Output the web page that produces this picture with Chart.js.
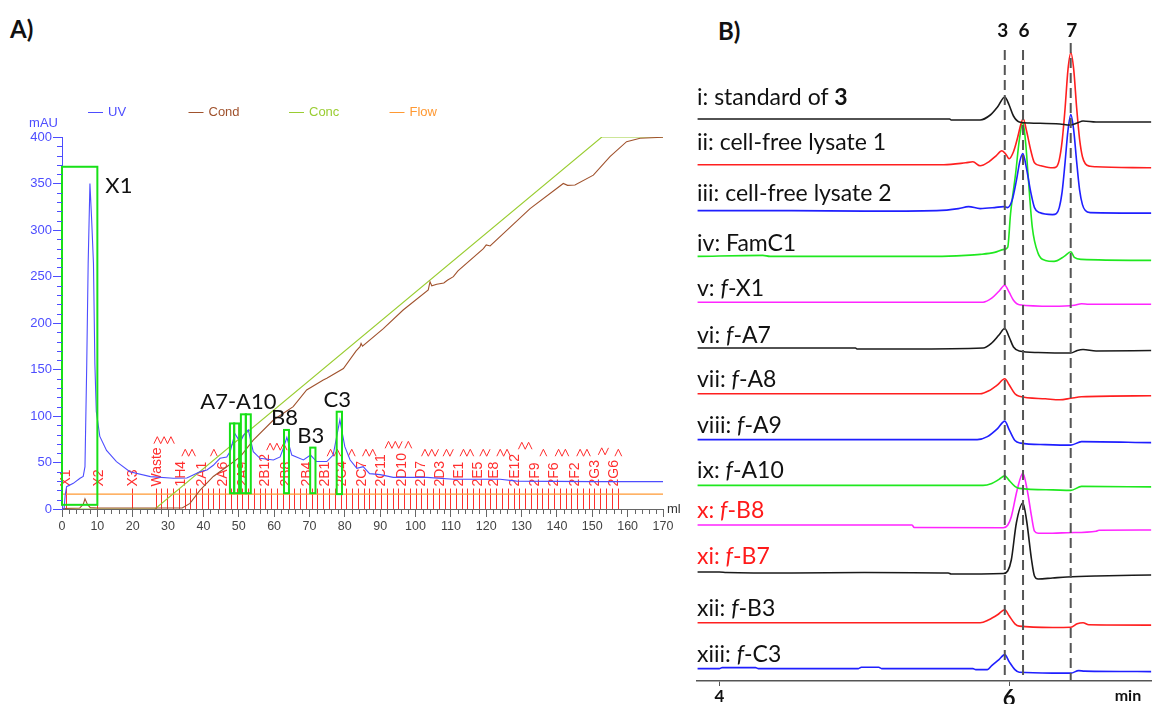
<!DOCTYPE html>
<html lang="en">
<head>
<meta charset="UTF-8">
<title>Fractionation and HPLC traces</title>
<script src="https://cdn.jsdelivr.net/npm/chart.js"></script>
<style>
  body { margin: 0; background: #fff; width: 1152px; height: 704px; position: relative; overflow: hidden; font-family: Lato, "Open Sans", sans-serif; }
  .tag { position: absolute; font-weight: bold; font-size: 24px; color: #111; }
  #wrapA { position: absolute; left: 0; top: 0; width: 690px; height: 704px; }
  #wrapB { position: absolute; left: 690px; top: 0; width: 462px; height: 704px; }
</style>
</head>
<body>
<div class="tag" style="left:10px;top:14px">A)</div>
<div class="tag" style="left:718px;top:16px">B)</div>
<div id="wrapA"><canvas id="chartA"></canvas></div>
<div id="wrapB"><canvas id="chartB"></canvas></div>

<script>
// ---------- panel A : ion exchange run (ml, value) ----------
const uvTrace = [[0,0],[0.6,0],[0.9,15],[1.3,24],[3.2,27.6],[5.1,33],[6.0,35],[6.5,45.5],[7.0,156],[7.4,264],[7.9,350],[8.4,310],[8.9,264],[9.3,156],[9.7,105],[10.7,78],[12.6,63],[15.4,51],[19.2,40],[25,34.8],[31.5,33],[35.3,33.3],[37.1,36.5],[39,40],[41,42],[42.8,47],[43.8,51],[44.7,54.5],[46.6,56],[47.6,62],[48.9,81],[50.4,72],[51.5,80],[52.7,85],[54.1,61.6],[56,54.5],[59.8,52.7],[61.7,56],[62.6,65],[63.6,77],[65,58],[68.3,52.7],[70.3,58],[72,51],[74.9,51],[76.7,58],[77.8,80],[78.6,95.7],[80,67],[81.5,52.7],[83.4,43.8],[85.2,45.5],[87,38],[90,37],[93.7,34],[103.2,34],[110.7,32],[123.9,32],[128.6,30],[150.3,29.4],[170,29.4]];
const condTrace = [[0,0.5],[5,1],[6,5],[6.5,11],[7.2,5],[8,1.5],[10,1],[34,1],[36.2,6],[39,20],[42.8,35],[46.6,45.5],[50.4,56],[54.1,74],[59.8,95.7],[65.4,110],[69.2,128],[73.9,138.7],[74.9,140.5],[79.6,151],[83.2,170],[84.3,174.5],[84.6,178],[85,175],[90.9,194],[96.5,214],[103.6,235.5],[104.1,244.4],[104.6,240],[106,241.6],[108,243],[109,246],[110.7,249.8],[112,256],[119.2,280],[120,284],[121.1,282.8],[132.4,323],[141.8,350],[143,348],[145.1,348.4],[150.3,359],[155,378.8],[159.7,395],[163.5,398.6],[170,399.7]];
const concTrace = [[0,0],[26.3,0],[152.7,400],[170,400]];
const flowTrace = [[0,16],[170,16]];

const fractionEdges = [1.0,10.0,19.7,26.5,28.1,29.8,31.4,33.0,34.7,36.3,37.9,39.6,41.2,42.8,44.5,46.1,47.7,49.4,51.0,52.6,54.3,55.9,57.5,59.2,60.8,62.4,64.1,65.7,67.3,69.0,70.6,72.2,73.9,75.5,77.1,78.8,80.4,82.0,83.7,85.3,86.9,88.6,90.2,91.8,93.5,95.1,96.7,98.4,100.0,101.6,103.3,104.9,106.5,108.2,109.8,111.4,113.1,114.7,116.3,118.0,119.6,121.2,122.9,124.5,126.1,127.8,129.4,131.0,132.7,134.3,135.9,137.6,139.2,140.8,142.5,144.1,145.7,147.4,149.0,150.6,152.3,153.9,155.5,157.2];
const fractionNames = ['X1','X2','X3','Waste','1H4','2A1','2A6','2A9','2B12','2B8','2B4','2B1','2C4','2C7','2C11','2D10','2D7','2D3','2E1','2E5','2E8','2E12','2F9','2F6','2F2','2G3','2G6'];
const fractionLabelAt = [1.2,10.4,20.2,27,33.7,39.7,45.5,51.2,57.4,63.5,69.2,74.4,79.1,84.8,90.4,96.1,101.7,107,112.2,117.8,122.1,128.2,133.9,139.1,145.2,150.9,156.1];
const wasteMarks = [[26,32,74],[33.9,38.1,60.5],[42,44,60.5],[57.9,64,67],[75,79,60.5],[81,83.5,60.5],[85,89.5,60.5],[91.4,96.2,69],[97,99.3,69],[101.7,106.5,60.5],[107.8,111.2,60.5],[112.6,117.3,60.5],[118.2,121.6,60.5],[123,127.7,60.5],[129.1,133.8,68],[135.2,138,60.5],[139.5,144.2,60.5],[145.6,150.3,60.5],[151.7,155,62],[156.4,159.2,60.5]];

const selectionNames = ['X1','A7-A10','B8','B3','C3'];
const selectionBoxes = [
  [[0,10,368,4.5]],
  [[47.5,48.7,92,17],[48.7,50.1,92,17],[50.6,52,101.8,17],[52,53.4,101.8,17]],
  [[62.8,64.2,85,17]],
  [[70.2,71.7,66,17]],
  [[77.7,79.2,104.6,16]]
];

// ---------- panel B : analytical HPLC (min, signal above baseline) ----------
const retentionMarks = [5.97, 6.096, 6.425];
const retentionNames = ['3','6','7'];
const xTicksB = [4, 6];
const traceNames = ['i: standard of **3**','ii: cell-free lysate 1','iii: cell-free lysate 2','iv: FamC1','v: *f*-X1','vi: *f*-A7','vii: *f*-A8','viii: *f*-A9','ix: *f*-A10','x: *f*-B8','xi: *f*-B7','xii: *f*-B3','xiii: *f*-C3'];

const stdOf3 = [[3.85,0],[5.59,0],[5.6,-1],[5.8,-1],[5.87,4],[5.92,12],[5.97,22],[6.0,14],[6.03,3],[6.07,-3],[6.14,-4],[6.35,-5],[6.42,-6],[6.47,-4],[6.51,-2],[6.6,-3],[6.98,-3]];
const lysate1 = [[3.85,0],[5.55,0],[5.7,2],[5.75,3],[5.8,-1],[5.86,3],[5.91,9],[5.95,14],[5.98,10],[6.0,6],[6.03,13],[6.06,28],[6.08,40],[6.097,46],[6.12,34],[6.15,14],[6.175,2],[6.22,-1],[6.3,-3],[6.326,-2],[6.346,5],[6.366,24],[6.386,56],[6.406,95],[6.426,112],[6.446,95],[6.466,57],[6.486,26],[6.506,8],[6.526,1],[6.56,-1.5],[6.6,-2],[6.98,-3]];
const lysate2 = [[3.85,0],[4.5,0],[5.0,-0.5],[5.5,0],[5.65,2],[5.72,4],[5.8,2],[5.9,3],[5.96,4],[5.99,3],[6.02,10],[6.05,30],[6.075,50],[6.095,57],[6.12,42],[6.15,18],[6.175,3],[6.21,-2],[6.3,-4],[6.326,-3],[6.346,3],[6.366,19],[6.386,48],[6.406,80],[6.426,96],[6.446,80],[6.466,49],[6.486,21],[6.506,6],[6.526,0],[6.56,-2],[6.98,-2.5]];
const famC1 = [[3.85,0],[4.3,1],[4.35,0],[5.5,0],[5.7,1],[5.8,2],[5.9,4],[5.965,7],[5.99,9],[6.01,43],[6.045,83],[6.07,116],[6.095,134],[6.115,112],[6.13,83],[6.16,29],[6.2,3],[6.25,-4],[6.31,-5],[6.38,0],[6.426,4.7],[6.45,-1],[6.5,-3],[6.98,-4]];
const fX1 = [[3.85,0],[5.82,0],[5.88,4],[5.93,11],[5.97,17],[6.0,10],[6.03,2],[6.07,-2.5],[6.3,-4],[6.45,-3],[6.5,-1.5],[6.55,-2],[6.98,-2]];
const fA7 = [[3.85,0],[4.94,0],[4.95,-1],[5.3,-1],[5.82,0],[5.88,5],[5.93,13],[5.97,19.5],[6.0,11],[6.03,1],[6.07,-3],[6.2,-4.5],[6.426,-5],[6.47,-2.5],[6.51,-1.5],[6.6,-3],[6.98,-2.5]];
const fA8 = [[3.85,0],[5.8,0],[5.86,3],[5.92,9],[5.97,15],[6.0,9],[6.04,0],[6.07,-2.5],[6.25,-5],[6.35,-6],[6.426,-4.5],[6.5,-3],[6.98,-2]];
const fA9 = [[3.85,0],[5.78,0],[5.85,3],[5.92,11],[5.97,18.5],[6.0,10],[6.04,-1],[6.08,-3.5],[6.25,-5],[6.426,-5.5],[6.5,-2],[6.98,-3]];
const fA10 = [[3.85,0],[5.82,0],[5.88,2],[5.93,6],[5.97,9.5],[6.0,5],[6.04,-1],[6.07,-3],[6.3,-4.5],[6.426,-5],[6.5,-1],[6.98,-1.5]];
const fB8 = [[3.85,6.2],[5.33,6.2],[5.345,3.7],[5.96,3.5],[5.99,6],[6.015,14.5],[6.055,41],[6.095,58],[6.125,41],[6.155,14.5],[6.175,0],[6.2,-2],[6.3,-2],[6.4,-1.5],[6.6,0],[6.62,1],[6.98,1.2]];
const fB7 = [[3.85,5],[4.0,5],[4.05,4.5],[4.5,4],[5.0,4.5],[5.58,4],[5.6,3],[5.96,3.5],[5.99,6],[6.015,17],[6.05,54],[6.095,74],[6.12,57],[6.155,17],[6.175,1],[6.2,-2],[6.3,-1],[6.4,0],[6.6,1],[6.98,2]];
const fB3 = [[3.85,0],[5.8,0],[5.86,3],[5.92,8],[5.97,13],[6.0,7],[6.04,-1],[6.07,-3.3],[6.3,-4.7],[6.426,-4.5],[6.47,-1],[6.51,0],[6.55,-2],[6.98,-2.3]];
const fC3 = [[3.85,0],[4.0,0],[4.02,1],[4.25,1],[4.27,0],[4.96,0],[4.98,1.3],[5.1,1.3],[5.12,0],[5.75,0],[5.77,-1],[5.85,-1],[5.88,3],[5.93,9],[5.97,14],[6.0,7],[6.04,-1],[6.07,-3.7],[6.3,-4.5],[6.426,-4.5],[6.48,-2],[6.52,-2.5],[6.98,-3]];

const traces = [stdOf3, lysate1, lysate2, famC1, fX1, fA7, fA8, fA9, fA10, fB8, fB7, fB3, fC3];

// ---------- styling ----------
const UV_BLUE = '#4d4dff', COND = '#a0522d', CONC = '#9acd32', FLOW = '#ff9933', FRAC_RED = '#ff2e2e', SEL_GREEN = '#17e017';
const traceColors = ['#1a1a1a','#ff1f1f','#1f1fff','#1fe81f','#ff25ff','#1a1a1a','#ff1f1f','#1f1fff','#1fe81f','#ff25ff','#1a1a1a','#ff1f1f','#1f1fff'];
const ARIAL = '"Liberation Sans", Arial, sans-serif';
const CAL = 'Lato, "Open Sans", sans-serif';

function toXY(arr) { return arr.map(p => ({ x: p[0], y: p[1] })); }

// fractions, waste marks, selection boxes, legend for panel A
const panelAExtras = {
  id: 'panelAExtras',
  beforeDatasetsDraw(chart) {
    const { ctx, scales: { x, y } } = chart;
    ctx.save();
    ctx.strokeStyle = FRAC_RED;
    ctx.lineWidth = 1;
    const y0 = y.getPixelForValue(0), yTop = y.getPixelForValue(22);
    fractionEdges.forEach(v => {
      const px = Math.round(x.getPixelForValue(v)) + 0.5;
      ctx.beginPath(); ctx.moveTo(px, y0); ctx.lineTo(px, yTop); ctx.stroke();
    });
    ctx.fillStyle = FRAC_RED;
    ctx.font = '14px ' + ARIAL;
    ctx.textAlign = 'left';
    ctx.textBaseline = 'middle';
    fractionNames.forEach((n, i) => {
      ctx.save();
      ctx.translate(x.getPixelForValue(fractionLabelAt[i]), yTop - 2);
      ctx.rotate(-Math.PI / 2);
      ctx.fillText(n, 0, 0);
      ctx.restore();
    });
    wasteMarks.forEach(([a, b, lvl]) => {
      const xa = x.getPixelForValue(a), xb = x.getPixelForValue(b), yb = y.getPixelForValue(lvl) + 3.5;
      ctx.beginPath(); ctx.moveTo(xa, yb);
      let up = true;
      for (let px = xa + 3.4; px <= xb + 0.1; px += 3.4) { ctx.lineTo(px, up ? yb - 7 : yb); up = !up; }
      ctx.stroke();
    });
    ctx.restore();
  },
  afterDatasetsDraw(chart) {
    const { ctx, scales: { x, y } } = chart;
    ctx.save();
    ctx.strokeStyle = SEL_GREEN;
    ctx.lineWidth = 2;
    ctx.fillStyle = '#111';
    ctx.font = '22px ' + CAL;
    selectionBoxes.forEach((group, gi) => {
      let minX = Infinity, maxX = -Infinity, topY = Infinity;
      group.forEach(([a, b, t, btm]) => {
        const xa = x.getPixelForValue(a), xb = x.getPixelForValue(b);
        const yt = y.getPixelForValue(t), yb = y.getPixelForValue(btm);
        ctx.strokeRect(xa, yt, xb - xa, yb - yt);
        minX = Math.min(minX, xa); maxX = Math.max(maxX, xb); topY = Math.min(topY, yt);
      });
      if (gi === 0) {
        ctx.textAlign = 'left';
        ctx.fillText(selectionNames[gi], maxX + 8, topY + 26);
      } else {
        ctx.textAlign = 'center';
        ctx.fillText(selectionNames[gi], (minX + maxX) / 2 - 2, topY - 5);
      }
    });
    ctx.restore();
  },
  afterDraw(chart) {
    const { ctx, chartArea, scales: { x, y } } = chart;
    ctx.save();
    // minor ticks
    ctx.lineWidth = 1;
    ctx.strokeStyle = UV_BLUE;
    for (let v = 10; v < 400; v += 10) {
      if (v % 50 === 0) continue;
      const py = Math.round(y.getPixelForValue(v)) + 0.5;
      ctx.beginPath(); ctx.moveTo(chartArea.left - 5, py); ctx.lineTo(chartArea.left, py); ctx.stroke();
    }
    ctx.strokeStyle = '#666';
    for (let v = 2; v < 170; v += 2) {
      if (v % 10 === 0) continue;
      const px = Math.round(x.getPixelForValue(v)) + 0.5;
      ctx.beginPath(); ctx.moveTo(px, chartArea.bottom); ctx.lineTo(px, chartArea.bottom + 5); ctx.stroke();
    }
    // axis units
    ctx.font = '13px ' + ARIAL;
    ctx.fillStyle = UV_BLUE;
    ctx.textAlign = 'right';
    ctx.textBaseline = 'middle';
    ctx.fillText('mAU', chartArea.left - 4, chartArea.top - 14);
    ctx.fillStyle = '#333';
    ctx.textAlign = 'left';
    ctx.fillText('ml', chartArea.right + 4, chartArea.bottom);
    // legend
    chart.data.datasets.forEach((ds, i) => {
      const lx = chartArea.left + 26 + i * 100.5;
      const ly = chartArea.top - 25;
      ctx.strokeStyle = ds.borderColor;
      ctx.beginPath(); ctx.moveTo(lx, ly + 0.5); ctx.lineTo(lx + 15, ly + 0.5); ctx.stroke();
      ctx.fillStyle = ds.borderColor;
      ctx.fillText(ds.label, lx + 20, ly);
    });
    ctx.restore();
  }
};

new Chart(document.getElementById('chartA'), {
  type: 'line',
  data: {
    datasets: [
      { label: 'UV', data: toXY(uvTrace), borderColor: UV_BLUE },
      { label: 'Cond', data: toXY(condTrace), borderColor: COND },
      { label: 'Conc', data: toXY(concTrace), borderColor: CONC },
      { label: 'Flow', data: toXY(flowTrace), borderColor: FLOW }
    ]
  },
  options: {
    responsive: true,
    maintainAspectRatio: false,
    animation: false,
    layout: { padding: { left: 0, right: 27, top: 137, bottom: 0 } },
    elements: { point: { radius: 0 }, line: { borderWidth: 1.1, tension: 0 } },
    plugins: { legend: { display: false }, tooltip: { enabled: false } },
    scales: {
      x: {
        type: 'linear', min: 0, max: 170,
        afterFit(s) { s.height = 195; },
        border: { color: '#666' },
        grid: { drawOnChartArea: false, color: '#666', tickLength: 8 },
        ticks: { stepSize: 10, color: '#444', font: { family: ARIAL, size: 12.5 }, padding: 2, maxRotation: 0, autoSkip: false }
      },
      y: {
        min: 0, max: 400,
        afterFit(s) { s.width = 62; },
        border: { color: UV_BLUE },
        grid: { drawOnChartArea: false, color: UV_BLUE, tickLength: 9 },
        ticks: { stepSize: 50, color: UV_BLUE, font: { family: ARIAL, size: 13 }, padding: 1 }
      }
    }
  },
  plugins: [panelAExtras]
});

// ---------- panel B ----------
const TOP_BASE = 562, GAP = 45.8;

function drawRich(ctx, str, x, y, color) {
  let cx = x;
  str.split(/(\*\*[^*]+\*\*|\*[^*]+\*)/).filter(Boolean).forEach(p => {
    let style = '';
    if (p.startsWith('**')) { style = 'bold '; p = p.slice(2, -2); }
    else if (p.startsWith('*')) { style = 'italic '; p = p.slice(1, -1); }
    ctx.font = style + '23px ' + CAL;
    ctx.fillStyle = color;
    ctx.fillText(p, cx, y);
    cx += ctx.measureText(p).width;
  });
}

const panelBExtras = {
  id: 'panelBExtras',
  afterDatasetsDraw(chart) {
    const { ctx, chartArea, scales: { x } } = chart;
    ctx.save();
    ctx.strokeStyle = '#555';
    ctx.lineWidth = 2;
    ctx.setLineDash([10, 5]);
    retentionMarks.forEach((t, i) => {
      const px = x.getPixelForValue(t);
      ctx.beginPath(); ctx.moveTo(px, chartArea.top + (i === 2 ? 3 : 10)); ctx.lineTo(px, chartArea.bottom); ctx.stroke();
    });
    ctx.setLineDash([]);
    ctx.fillStyle = '#111';
    ctx.font = 'bold 19px ' + CAL;
    ctx.textAlign = 'center';
    ctx.textBaseline = 'alphabetic';
    retentionNames.forEach((n, i) => ctx.fillText(n, x.getPixelForValue(retentionMarks[i]) + (i === 0 ? -2 : 1), 37));
    // trace labels
    const labelBaselinePx = [105, 150, 201, 251, 296, 343, 387, 433, 478, 518, 564, 616, 662];
    ctx.textAlign = 'left';
    traceNames.forEach((n, k) => drawRich(ctx, n, chartArea.left, labelBaselinePx[k], (k === 9 || k === 10) ? '#ff1a1a' : '#111'));
    // unit
    ctx.font = 'bold 16px ' + CAL;
    ctx.textAlign = 'center';
    ctx.fillText('min', x.getPixelForValue(6.82), 701);
    ctx.restore();
  }
};

new Chart(document.getElementById('chartB'), {
  type: 'line',
  data: {
    datasets: traces.map((pts, k) => ({
      label: traceNames[k],
      data: pts.map(([t, v]) => ({ x: t, y: TOP_BASE - k * GAP + v })),
      borderColor: traceColors[k],
      borderWidth: 1.6,
      cubicInterpolationMode: 'monotone'
    }))
  },
  options: {
    responsive: true,
    maintainAspectRatio: false,
    animation: false,
    layout: { padding: { left: 7, right: 0, top: 40, bottom: 0 } },
    elements: { point: { radius: 0 } },
    plugins: { legend: { display: false }, tooltip: { enabled: false } },
    scales: {
      x: {
        type: 'linear', min: 3.846, max: 6.986,
        afterFit(s) { s.height = 23; },
        afterBuildTicks(s) { s.ticks = xTicksB.map(v => ({ value: v })); },
        border: { color: '#555', width: 1.6 },
        grid: { drawOnChartArea: false, color: '#555', tickLength: 5 },
        ticks: {
          color: '#111', padding: 0, maxRotation: 0,
          font: c => (c.tick && c.tick.value === 6) ? { family: CAL, size: 22, weight: 'bold' } : { family: CAL, size: 17, weight: 'bold' }
        }
      },
      y: { display: false, min: 0, max: 641 }
    }
  },
  plugins: [panelBExtras]
});
</script>
</body>
</html>
